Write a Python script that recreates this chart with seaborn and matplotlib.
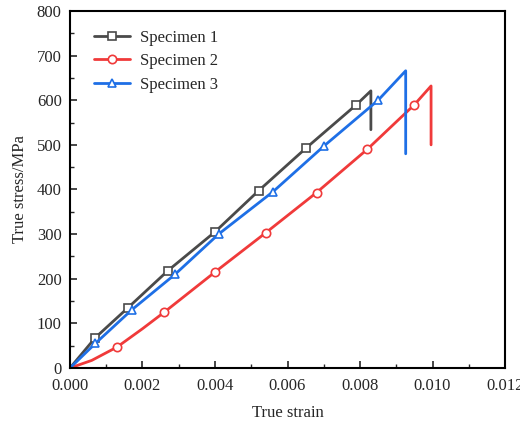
import pandas as pd
import seaborn as sns
import matplotlib.pyplot as plt
from matplotlib.ticker import MultipleLocator

# strain / stress points
strain_1 = [0.0, 0.0007, 0.0016, 0.0027, 0.0040, 0.0052, 0.0065, 0.0079, 0.0083, 0.0083]
stress_1 = [0, 68, 135, 218, 305, 397, 492, 590, 621, 534]

strain_2 = [0.0, 0.0006, 0.0013, 0.0020, 0.0026, 0.0040, 0.0054, 0.0068, 0.0082, 0.0095, 0.00996, 0.00996]
stress_2 = [0, 17, 47, 88, 125, 215, 303, 393, 490, 590, 632, 500]

strain_3 = [0.0, 0.0007, 0.0017, 0.0029, 0.0041, 0.0056, 0.0070, 0.0085, 0.00926, 0.00926]
stress_3 = [0, 55, 130, 210, 300, 395, 497, 600, 666, 480]

labels = ["Specimen 1", "Specimen 2", "Specimen 3"]
colors = ["#4a4a4a", "#f03a3a", "#1e6fe6"]
markers = ["s", "o", "^"]

sns.set_style("white")
plt.rcParams["font.family"] = ["Liberation Serif", "DejaVu Serif"]
plt.rcParams["font.size"] = 12

fig = plt.figure(figsize=(5.2, 4.22), dpi=100)
ax = fig.add_axes([0.1346, 0.128, 0.8366, 0.846])

series = [(strain_1, stress_1, [1, 2, 3, 4, 5, 6, 7]),
          (strain_2, stress_2, [2, 4, 5, 6, 7, 8, 9]),
          (strain_3, stress_3, [1, 2, 3, 4, 5, 6, 7])]

for (xs, ys, mk), label, c, m in zip(series, labels, colors, markers):
    df = pd.DataFrame({"strain": xs, "stress": ys})
    sns.lineplot(data=df, x="strain", y="stress", ax=ax, sort=False, estimator=None,
                 color=c, lw=2, marker=m, markevery=mk, markersize=6,
                 markerfacecolor="white", markeredgecolor=c, markeredgewidth=1.2,
                 label=label)

ax.set_xlim(0, 0.012)
ax.set_ylim(0, 800)
ax.xaxis.set_major_locator(MultipleLocator(0.002))
ax.xaxis.set_minor_locator(MultipleLocator(0.001))
ax.yaxis.set_major_locator(MultipleLocator(100))
ax.yaxis.set_minor_locator(MultipleLocator(50))
ax.xaxis.set_major_formatter(plt.FuncFormatter(lambda v, p: f"{v:.3f}"))
ax.tick_params(which="major", direction="in", length=5, width=1.2, bottom=True, left=True, labelsize=12)
ax.tick_params(axis="x", which="major", pad=7)
ax.tick_params(axis="y", which="major", pad=6)
ax.tick_params(which="minor", direction="in", length=3, width=1, bottom=True, left=True)
for s in ax.spines.values():
    s.set_linewidth(1.5)
    s.set_color("black")

ax.set_xlabel("True strain", fontsize=12, labelpad=8)
ax.set_ylabel("True stress/MPa", fontsize=12, labelpad=6)

ax.legend(loc="upper left", frameon=False, fontsize=12, handlelength=2.2,
          handletextpad=0.55, bbox_to_anchor=(0.02, 0.99), labelspacing=0.45)

plt.savefig("out.png", dpi=100)
